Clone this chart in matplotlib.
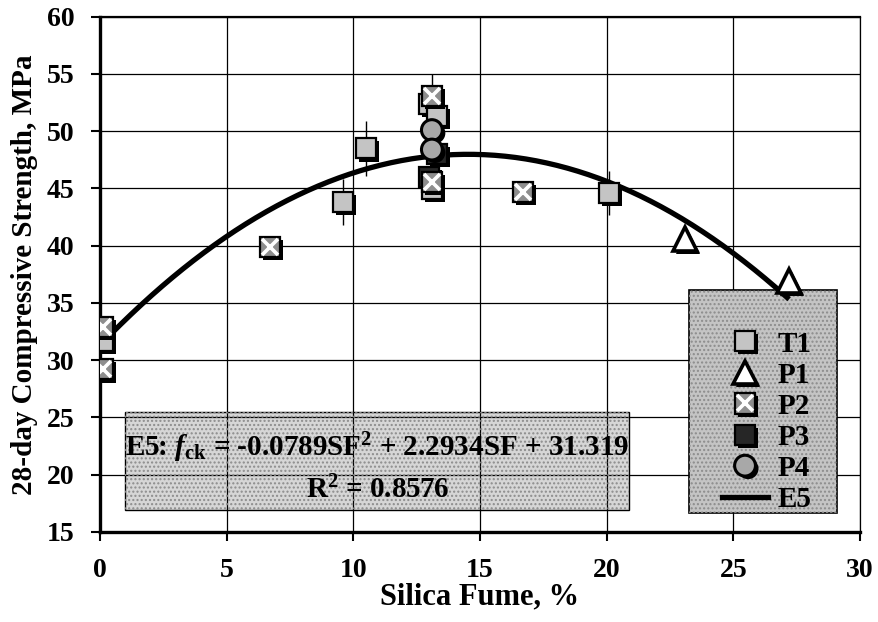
"""Quadratic fit of 28-day compressive strength against silica fume content."""

import matplotlib
matplotlib.use("Agg")
import matplotlib.pyplot as plt
import matplotlib.patheffects as pe
from matplotlib.lines import Line2D
from matplotlib.patches import Rectangle
import numpy as np

plt.rcParams["font.family"] = ["Liberation Serif", "DejaVu Serif"]
plt.rcParams["font.weight"] = "bold"
plt.rcParams["mathtext.fontset"] = "custom"
plt.rcParams["mathtext.rm"] = "Liberation Serif:bold"
plt.rcParams["mathtext.bf"] = "Liberation Serif:bold"
plt.rcParams["mathtext.it"] = "Liberation Serif:italic:bold"

# Mix data: silica fume (%) and 28-day strength (MPa)
t1_sf = [0.1, 9.6, 10.5, 13.0, 13.3, 13.1, 20.1]
t1_fck = [31.7, 43.8, 48.5, 52.4, 51.3, 45.0, 44.6]
t1_err = [0.0, 2.0, 2.4, 0.0, 0.0, 0.0, 1.9]

p1_sf = [23.1, 27.2]
p1_fck = [40.6, 36.9]

p2_sf = [0.1, 0.1, 6.7, 13.1, 13.1, 16.7]
p2_fck = [32.9, 29.2, 39.9, 53.1, 45.6, 44.7]
p2_err = [0.0, 0.0, 0.0, 1.9, 0.0, 0.0]

p3_sf = [13.3, 13.0]
p3_fck = [48.0, 46.0]

p4_sf = [13.1, 13.1]
p4_fck = [50.1, 48.4]

# E5 regression coefficients and fit range
coef_a, coef_b, coef_c = -0.0789, 2.2934, 31.319
r_squared = 0.8576
fit_range = (0.0, 27.2)

x_ticks = [0, 5, 10, 15, 20, 25, 30]
y_ticks = [15, 20, 25, 30, 35, 40, 45, 50, 55, 60]

HALFTONE = "#c4c4c4"
shadow = [pe.SimplePatchShadow(offset=(2.2, -2.2), shadow_rgbFace="black", alpha=1.0),
          pe.Normal()]

fig = plt.figure(figsize=(8.79, 6.22), dpi=100)
ax = fig.add_axes([0.1138, 0.1447, 0.8646, 0.8284])

ax.set_xlim(0, 30)
ax.set_ylim(15, 60)
ax.set_xticks(x_ticks)
ax.set_yticks(y_ticks)
ax.grid(True, color="black", linewidth=0.9, zorder=1.5)
ax.set_axisbelow(True)

ax.tick_params(direction="out", length=6.5, width=1.5, labelsize=20, pad=12)
for lbl in ax.get_xticklabels() + ax.get_yticklabels():
    lbl.set_fontweight("bold")
ax.spines["left"].set_linewidth(2.4)
ax.spines["bottom"].set_linewidth(2.4)
ax.spines["top"].set_linewidth(1.6)
ax.spines["right"].set_linewidth(0.9)

ax.set_xlabel("Silica Fume, %", fontsize=22, fontweight="bold", labelpad=0)
ax.set_ylabel("28-day Compressive Strength, MPa", fontsize=21, fontweight="bold")
ax.yaxis.set_label_coords(-0.082, 0.5)

# Equation panel (grid shows through it)
eq_box = Rectangle((1.0, 16.9), 19.9, 8.6, facecolor="#d6d6d6", edgecolor="black",
                   linewidth=1.0, zorder=0.5)
ax.add_patch(eq_box)
ax.add_patch(Rectangle((1.0, 16.9), 19.9, 8.6, facecolor="none", edgecolor="#8c8c8c",
                       linewidth=0, hatch="....", zorder=0.6))
ax.text(10.95, 22.4,
        "E5: $\\mathit{f}_{\\mathrm{ck}}$ = %.4fSF$^{2}$ + %.4fSF + %.3f" % (coef_a, coef_b, coef_c),
        ha="center", va="center", fontsize=21, fontweight="bold", zorder=3)
ax.text(10.95, 18.7, "R$^{2}$ = %.4f" % r_squared,
        ha="center", va="center", fontsize=21, fontweight="bold", zorder=3)

# Legend panel (opaque over the grid)
leg_box = Rectangle((0.775, 0.037), 0.195, 0.433, transform=ax.transAxes,
                    facecolor=HALFTONE, edgecolor="black", linewidth=1.2, zorder=1.8)
ax.add_patch(leg_box)
ax.add_patch(Rectangle((0.775, 0.037), 0.195, 0.433, transform=ax.transAxes,
                       facecolor="none", edgecolor="#8c8c8c", linewidth=0,
                       hatch="....", zorder=1.85))

# Fitted curve
sf = np.linspace(fit_range[0], fit_range[1], 200)
fck = coef_a * sf ** 2 + coef_b * sf + coef_c
ax.plot(sf, fck, color="black", linewidth=3.8, zorder=2.5, solid_capstyle="butt")

# Scatter bars
ax.errorbar(t1_sf, t1_fck, yerr=t1_err, fmt="none", ecolor="black", elinewidth=1.0,
            capsize=0, zorder=2.2)
ax.errorbar(p2_sf, p2_fck, yerr=p2_err, fmt="none", ecolor="black", elinewidth=1.0,
            capsize=0, zorder=2.2)

sq_kw = dict(linestyle="none", marker="s", markersize=14.5, markeredgecolor="black",
             markeredgewidth=1.6, path_effects=shadow)

p3_line, = ax.plot(p3_sf, p3_fck, markerfacecolor="#262626", zorder=3, **sq_kw)
t1_line, = ax.plot(t1_sf, t1_fck, markerfacecolor=HALFTONE, zorder=3.2, **sq_kw)
p4_line, = ax.plot(p4_sf, p4_fck, linestyle="none", marker="o", markersize=15,
                   markerfacecolor="#a8a8a8", markeredgecolor="black",
                   markeredgewidth=2.2, path_effects=shadow, zorder=3.4)
p2_base, = ax.plot(p2_sf, p2_fck, markerfacecolor="#8e8e8e", zorder=3.6, **sq_kw)
p2_cross, = ax.plot(p2_sf, p2_fck, linestyle="none", marker="x", markersize=12,
                    markeredgecolor="white", markeredgewidth=2.6, zorder=3.7)
p1_line, = ax.plot(p1_sf, p1_fck, linestyle="none", marker="^", markersize=17,
                   markerfacecolor="white", markeredgecolor="black",
                   markeredgewidth=2.6, path_effects=shadow, zorder=3.8)

e5_handle = Line2D([], [], color="black", linewidth=3.8)
handles = [t1_line, p1_line, (p2_base, p2_cross), p3_line, p4_line, e5_handle]
labels = ["T1", "P1", "P2", "P3", "P4", "E5"]
leg = ax.legend(handles, labels, loc="upper left", bbox_to_anchor=(0.818, 0.391),
                frameon=False, fontsize=21, labelspacing=0.14, handlelength=1.6,
                handletextpad=0.3, borderpad=0.0, borderaxespad=0.0)
for txt in leg.get_texts():
    txt.set_fontweight("bold")
leg.set_zorder(5)

fig.savefig("out.png", dpi=100)
